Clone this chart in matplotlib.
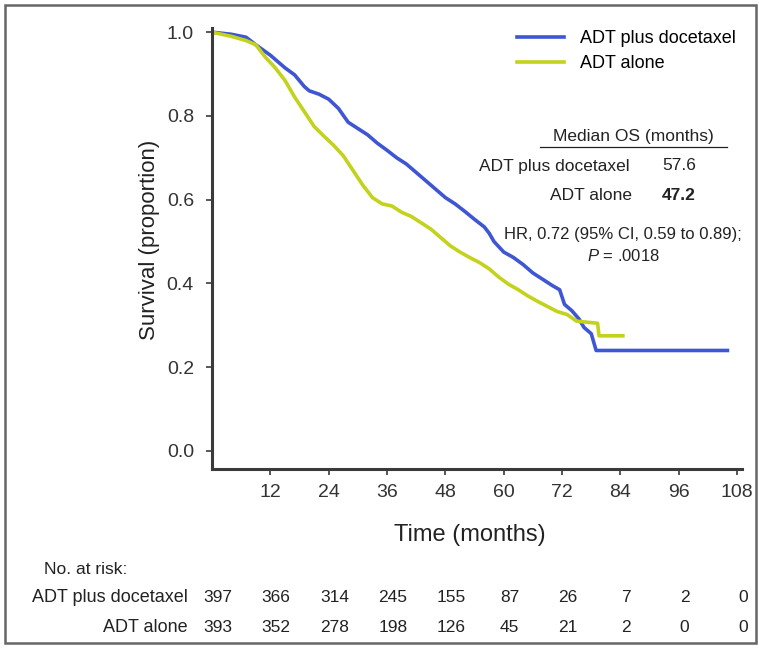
import matplotlib
matplotlib.use("Agg")
import matplotlib.pyplot as plt
from matplotlib.lines import Line2D
from matplotlib.patches import Rectangle

plt.rcParams['font.family'] = ['Liberation Sans', 'DejaVu Sans']
plt.rcParams['mathtext.fontset'] = 'custom'
plt.rcParams['mathtext.rm'] = 'Liberation Sans'
plt.rcParams['mathtext.it'] = 'Liberation Sans:italic'

# Kaplan-Meier curves (months, survival proportion)
time_doc = [0, 4, 7, 9, 12, 15, 17, 19, 20, 22, 24, 26, 28, 30, 32, 34, 36, 38, 40, 42,
            44, 46, 48, 50, 52, 54, 56, 57, 58, 60, 62, 64, 66, 68, 70, 71.5, 72.5, 74,
            75.5, 76.5, 78, 79, 106]
surv_doc = [1.0, 0.995, 0.988, 0.97, 0.945, 0.915, 0.898, 0.87, 0.86, 0.852, 0.84, 0.818,
            0.785, 0.77, 0.755, 0.735, 0.718, 0.70, 0.685, 0.665, 0.645, 0.625, 0.605,
            0.59, 0.572, 0.553, 0.535, 0.52, 0.50, 0.475, 0.462, 0.445, 0.425, 0.41,
            0.395, 0.385, 0.35, 0.335, 0.315, 0.295, 0.28, 0.24, 0.24]

time_adt = [0, 4, 7, 9, 11, 13, 15, 17, 19, 21, 23, 25, 27, 29, 31, 33, 35, 37, 39, 41,
            43, 45, 47, 49, 51, 53, 55, 57, 59, 61, 63, 65, 67, 69, 71, 73, 75, 79.3,
            79.6, 84.5]
surv_adt = [1.0, 0.99, 0.98, 0.97, 0.94, 0.915, 0.885, 0.845, 0.81, 0.775, 0.752, 0.73,
            0.705, 0.67, 0.635, 0.605, 0.59, 0.585, 0.57, 0.56, 0.545, 0.53, 0.51, 0.49,
            0.475, 0.462, 0.45, 0.435, 0.415, 0.398, 0.385, 0.37, 0.357, 0.345, 0.333,
            0.326, 0.31, 0.305, 0.275, 0.275]

risk_times = [0, 12, 24, 36, 48, 60, 72, 84, 96, 108]
risk_doc = [397, 366, 314, 245, 155, 87, 26, 7, 2, 0]
risk_adt = [393, 352, 278, 198, 126, 45, 21, 2, 0, 0]

labels = ['ADT plus docetaxel', 'ADT alone']
median_os = ['57.6', '47.2']
blue = '#3f56d4'
yellow = '#c3d21c'

W, H = 759, 649
fig = plt.figure(figsize=(W / 100, H / 100), dpi=100)


def fx(px):
    return px / W


def fy(py):
    return 1 - py / H


ax = fig.add_axes([fx(212), fy(469), (742 - 212) / W, (469 - 28) / H])
ax.plot(time_doc, surv_doc, color=blue, lw=2.6, label=labels[0])
ax.plot(time_adt, surv_adt, color=yellow, lw=2.6, label=labels[1])

ax.set_xlim(0, 109)
ax.set_ylim(-0.043, 1.01)
ax.set_xticks(risk_times[1:])
ax.set_yticks([0.0, 0.2, 0.4, 0.6, 0.8, 1.0])
ax.set_yticklabels(['0.0', '0.2', '0.4', '0.6', '0.8', '1.0'])
for s in ['top', 'right']:
    ax.spines[s].set_visible(False)
for s in ['left', 'bottom']:
    ax.spines[s].set_linewidth(2.2)
    ax.spines[s].set_color('#3a3a3a')
ax.tick_params(axis='both', labelsize=14, length=4, width=1.2, colors='#3a3a3a',
               labelcolor='#333333')
ax.tick_params(axis='x', pad=7)
ax.tick_params(axis='y', pad=9)

fig.text(fx(150), fy(240), 'Survival (proportion)', rotation=90, ha='center',
         va='center', fontsize=16, color='#222222')
fig.text(fx(470), fy(535), 'Time (months)', ha='center', va='center', fontsize=17,
         color='#222222')

ax.legend(loc='upper left', bbox_to_anchor=(fx(517), fy(30)), bbox_transform=fig.transFigure,
          frameon=False, fontsize=13, handlelength=2.6, handletextpad=0.9,
          labelspacing=0.45, borderpad=0, borderaxespad=0)

# median OS box
fs = 12.5
fig.text(fx(633), fy(137), 'Median OS (months)', ha='center', va='center', fontsize=fs,
         color='#222222')
fig.add_artist(Line2D([fx(540), fx(727)], [fy(147), fy(147)], color='#222222', lw=0.9))
fig.text(fx(630), fy(166), labels[0], ha='right', va='center', fontsize=fs, color='#222222')
fig.text(fx(662), fy(166), median_os[0], ha='left', va='center', fontsize=fs, color='#222222')
fig.text(fx(632), fy(196), labels[1], ha='right', va='center', fontsize=fs, color='#222222')
fig.text(fx(662), fy(196), median_os[1], ha='left', va='center', fontsize=fs,
         fontweight='bold', color='#222222')
fig.text(fx(623), fy(235), 'HR, 0.72 (95% CI, 0.59 to 0.89);', ha='center', va='center',
         fontsize=12, color='#222222')
fig.text(fx(623), fy(256), r'$\it{P}$ = .0018', ha='center', va='center', fontsize=12,
         color='#222222')

# numbers at risk
trans = matplotlib.transforms.blended_transform_factory(ax.transData, fig.transFigure)
fig.text(fx(127), fy(569), 'No. at risk:', ha='right', va='center', fontsize=12.5,
         color='#222222')
for row, (lab, vals) in enumerate(zip(labels, [risk_doc, risk_adt])):
    yy = fy(598 + row * 29)
    fig.text(fx(188), yy, lab, ha='right', va='center', fontsize=13, color='#222222')
    for t, v in zip(risk_times, vals):
        ax.text(t + 1.2, yy, str(v), transform=trans, ha='center', va='center',
                fontsize=12.5, color='#222222', clip_on=False)

# outer frame
fig.add_artist(Rectangle((fx(5), fy(643)), fx(751), (643 - 5) / H, fill=False,
                         edgecolor='#666666', lw=1.8, transform=fig.transFigure))

fig.savefig('out.png', dpi=100)
